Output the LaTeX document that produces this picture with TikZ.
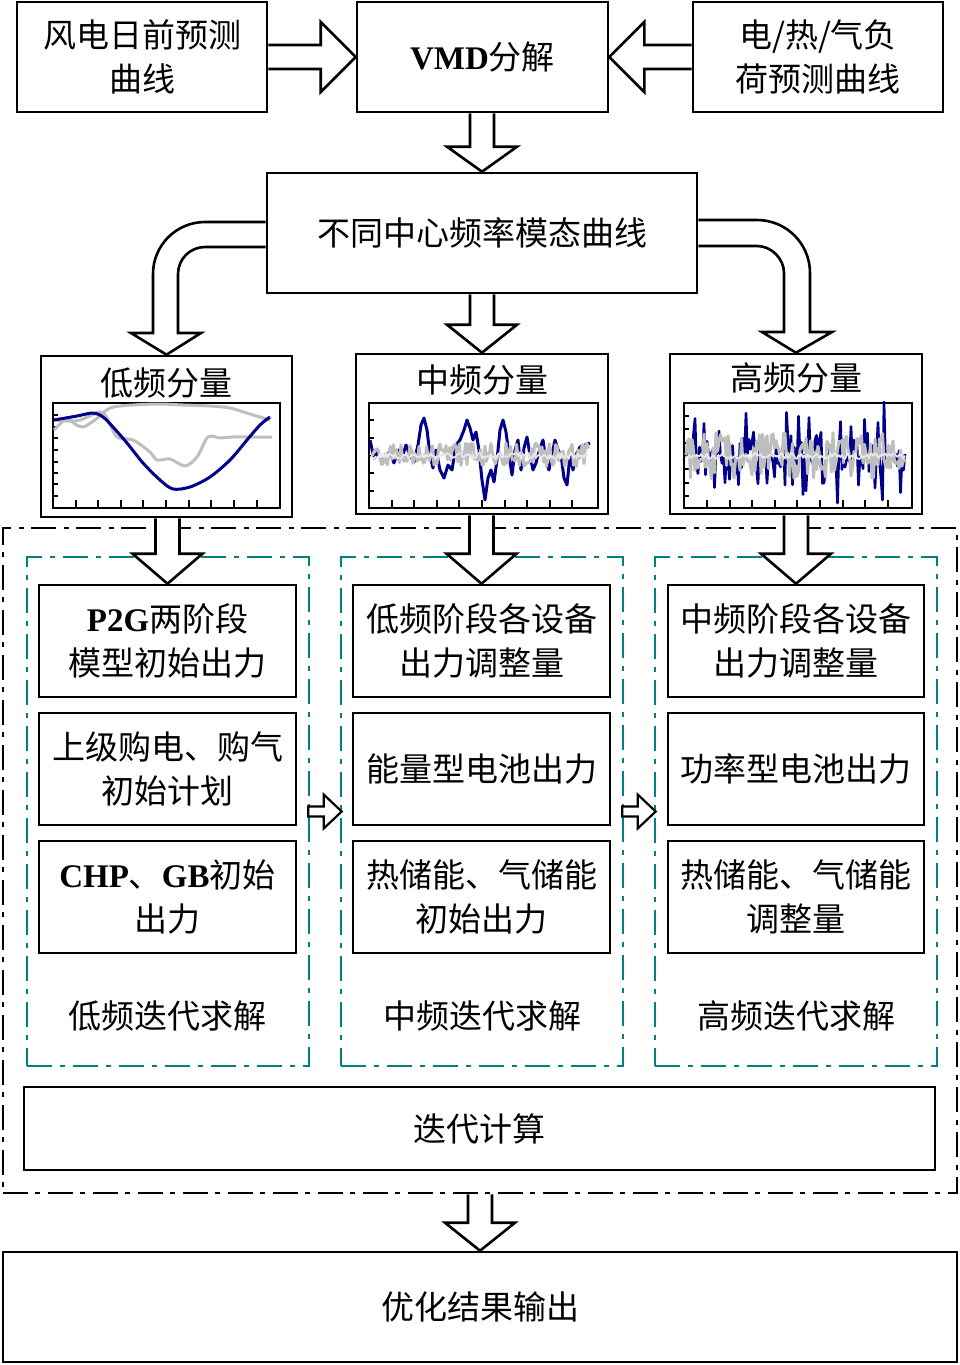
\documentclass[tikz,border=0pt]{standalone}
\usepackage{fontspec}
\setmainfont{Noto Sans CJK SC}
\newfontfamily\lat{Liberation Serif}
\usetikzlibrary{calc}
\definecolor{navyc}{RGB}{0,0,140}
\definecolor{greyc}{RGB}{190,190,190}
\definecolor{lightc}{RGB}{232,232,232}
\definecolor{tealc}{RGB}{0,128,128}
\tikzset{
  box/.style={draw, line width=2.6pt, fill=white, inner sep=0pt, align=center, font=\fontsize{33}{44}\selectfont},
  lbl/.style={inner sep=0pt, align=center, font=\fontsize{33}{44}\selectfont},
  barrow/.style={draw, line width=2.6pt, fill=white, line join=miter, miter limit=10},
  sarrow/.style={draw, line width=2.2pt, fill=white, line join=miter, miter limit=10},
  outerbox/.style={draw, line width=2.6pt, dash pattern=on 25pt off 7pt on 5pt off 8pt, inner sep=0pt},
  grpbox/.style={draw=tealc, line width=2.6pt, dash pattern=on 25pt off 8pt on 5pt off 8pt, inner sep=0pt},
  plotframe/.style={draw, line width=2.6pt, inner sep=0pt},
  tickmark/.style={line width=2pt},
  blueline/.style={navyc, line width=3pt, line join=round},
  greyline/.style={greyc, line width=3pt, line join=round},
  lightline/.style={lightc, line width=1.8pt, line join=round},
}
% down block arrow: #1 head length, #2 source anchor, #3 tip anchor
\newcommand\blkdown[3][28]{%
  \draw[barrow] ($(#2 -| #3)+(-12,0)$) -- ($(#3)+(-12,-#1)$) -- ++(-23,0) -- (#3)
    -- ($(#3)+(35,-#1)$) -- ++(-23,0) -- ($(#2 -| #3)+(12,0)$);}
\begin{document}
\begin{tikzpicture}[x=1pt,y=-1pt]
\useasboundingbox (0,0) rectangle (959,1365);
\fill[white] (0,0) rectangle (959,1365);

% dashed frames
\node[outerbox, minimum width=954pt, minimum height=665pt] (outer) at (480,860.5) {};
\node[grpbox, minimum width=282pt, minimum height=509pt] (g1) at (168,811.5) {};
\node[grpbox, minimum width=282pt, minimum height=509pt] (g2) at (482,811.5) {};
\node[grpbox, minimum width=282pt, minimum height=509pt] (g3) at (796,811.5) {};
\node[lbl] (g1l) at (167,1016) {低频迭代求解};
\node[lbl] (g2l) at (482,1016) {中频迭代求解};
\node[lbl] (g3l) at (796,1016) {高频迭代求解};

% top boxes
\node[box, minimum width=250pt, minimum height=110pt] (wind) at (142,57) {风电日前预测\\曲线};
\node[box, minimum width=251pt, minimum height=110pt] (vmd) at (482.5,57) {{\lat\bfseries VMD}分解};
\node[box, minimum width=250pt, minimum height=110pt] (load) at (818,57) {电/热/气负\\荷预测曲线};
\node[box, minimum width=430pt, minimum height=120pt] (mode) at (482,233) {不同中心频率模态曲线};

% chart boxes
\node[box, minimum width=251pt, minimum height=161pt] (lowbox) at (166.5,436.5) {};
\node[box, minimum width=252pt, minimum height=160pt] (midbox) at (482,434) {};
\node[box, minimum width=252pt, minimum height=160pt] (highbox) at (796,434) {};
\node[lbl] (lowt) at (166,383) {低频分量};
\node[lbl] (midt) at (482,380) {中频分量};
\node[lbl] (hight) at (796,378) {高频分量};
\node[plotframe, minimum width=227pt, minimum height=105pt] (lowplot) at (166.5,455.5) {};
\node[plotframe, minimum width=229pt, minimum height=105pt] (midplot) at (483.5,455.5) {};
\node[plotframe, minimum width=228pt, minimum height=105pt] (highplot) at (798,455.5) {};

% low chart
\foreach \y in {415,427,438,450,462,473,484,496} \draw[tickmark] (53,\y) -- ++(5,0);
\foreach \x in {76,98,121,143,166,189,211,234,257} \draw[tickmark] (\x,508) -- ++(0,-8);
\begin{scope}
\clip (lowplot.south west) rectangle (lowplot.north east);
\draw[greyline] plot[smooth] coordinates {(54,430) (60,424) (67,418) (75,424) (83,427) (95,420) (110,408) (133,405) (160,404) (183,405) (210,406) (230,408) (253,415) (270,420)};
\draw[greyline] plot[smooth] coordinates {(54,420) (65,421) (80,420) (100,412) (107,418) (117,437) (133,440) (150,452) (157,460) (170,459) (185,466) (197,457) (208,437) (220,438) (233,437) (255,437) (272,437)};
\draw[blueline] plot[smooth] coordinates {(54,420) (77,416) (93,413) (103,417) (113,427) (127,443) (143,463) (160,480) (173,489) (190,487) (210,477) (230,460) (247,440) (260,425) (270,417)};
\end{scope}

% mid chart
\foreach \y in {420,438,456,473,491} \draw[tickmark] (369,\y) -- ++(5,0);
\foreach \x in {392,414,437,459,482,505,527,550,572} \draw[tickmark] (\x,508) -- ++(0,-8);
\begin{scope}
\clip (midplot.south west) rectangle (midplot.north east);
\draw[blueline] (370,440) -- (374,458) -- (378,452) -- (382,462) -- (386,455) -- (390,452) -- (394,463) -- (398,450) -- (402,458) -- (406,445) -- (410,455) -- (414,462) -- (418,445) -- (421,425) -- (424,418) -- (427,430) -- (430,455) -- (433,468) -- (436,450) -- (440,470) -- (444,478) -- (448,465) -- (452,470) -- (456,445) -- (460,440) -- (464,430) -- (467,420) -- (470,428) -- (473,440) -- (476,432) -- (479,450) -- (482,480) -- (485,500) -- (488,478) -- (491,470) -- (494,482) -- (497,460) -- (500,430) -- (503,420) -- (506,432) -- (509,455) -- (512,475) -- (515,450) -- (518,440) -- (521,470) -- (524,448) -- (527,437) -- (530,455) -- (533,470) -- (536,463) -- (540,448) -- (543,440) -- (546,462) -- (549,470) -- (552,455) -- (555,440) -- (558,450) -- (561,455) -- (564,478) -- (567,485) -- (570,455) -- (573,470) -- (576,455) -- (580,447) -- (585,445) -- (590,443);
\pgfmathsetseed{11}
\draw[greyline] (371,455) \foreach \i in {1,...,145} { -- ({371+1.5*\i},{455+12*rand}) };
\draw[lightline] (371,456) \foreach \i in {1,...,145} { -- ({371+1.5*\i},{456+3*rand}) };
\end{scope}

% high chart
\foreach \y in {416,429,443,456,469,483,496} \draw[tickmark] (684,\y) -- ++(5,0);
\foreach \x in {707,730,752,775,797,820,843,865,888} \draw[tickmark] (\x,508) -- ++(0,-8);
\begin{scope}
\clip (highplot.south west) rectangle (highplot.north east);
\pgfmathsetseed{42}
\draw[blueline, line width=2.6pt] (686,455) \foreach \i in {1,...,146} { -- ({686+1.5*\i},{455+56*rand*abs(rand)}) };
\draw[greyline] (686,455) \foreach \i in {1,...,146} { -- ({686+1.5*\i},{455+24*rand}) };
\draw[lightline] (686,456) \foreach \i in {1,...,146} { -- ({686+1.5*\i},{456+3*rand}) };
\end{scope}

% column boxes
\node[box, minimum width=257pt, minimum height=112pt] (c11) at (167.5,641) {{\lat\bfseries P2G}两阶段\\模型初始出力};
\node[box, minimum width=257pt, minimum height=112pt] (c12) at (167.5,769) {上级购电、购气\\初始计划};
\node[box, minimum width=257pt, minimum height=112pt] (c13) at (167.5,897) {{\lat\bfseries CHP}、{\lat\bfseries GB}初始\\出力};
\node[box, minimum width=257pt, minimum height=112pt] (c21) at (481.5,641) {低频阶段各设备\\出力调整量};
\node[box, minimum width=257pt, minimum height=112pt] (c22) at (481.5,769) {能量型电池出力};
\node[box, minimum width=257pt, minimum height=112pt] (c23) at (481.5,897) {热储能、气储能\\初始出力};
\node[box, minimum width=256pt, minimum height=112pt] (c31) at (796,641) {中频阶段各设备\\出力调整量};
\node[box, minimum width=256pt, minimum height=112pt] (c32) at (796,769) {功率型电池出力};
\node[box, minimum width=256pt, minimum height=112pt] (c33) at (796,897) {热储能、气储能\\调整量};

% bottom boxes
\node[box, minimum width=911pt, minimum height=83pt] (iter) at (479.5,1128.5) {迭代计算};
\node[box, minimum width=954pt, minimum height=110pt] (result) at (480,1307) {优化结果输出};

% horizontal block arrows
\draw[barrow] ($(wind.east)+(0,-12)$) -- ($(vmd.west)+(-35,-12)$) -- ++(0,-23) -- (vmd.west)
  -- ++(-35,35) -- ++(0,-23) -- ($(wind.east)+(0,12)$);
\draw[barrow] ($(load.west)+(0,-12)$) -- ($(vmd.east)+(35,-12)$) -- ++(0,-23) -- (vmd.east)
  -- ++(35,35) -- ++(0,-23) -- ($(load.west)+(0,12)$);

% vertical block arrows
\blkdown[25]{vmd.south}{mode.north}
\blkdown{mode.south}{midbox.north}
\blkdown[30]{lowbox.south}{c11.north}
\blkdown[30]{midbox.south}{c21.north}
\blkdown[30]{highbox.south}{c31.north}
\blkdown{outer.south}{result.north}

% curved block arrows
\draw[barrow] ($(mode.west)+(0,-11)$) -- (205,222) .. controls (176.3,222) and (153,245.3) .. (153,274)
  -- (153,333) -- (131,333) -- (lowbox.north) -- (201,333) -- (178,333) -- (178,274)
  .. controls (178,259.1) and (190.1,247) .. (205,247) -- ($(mode.west)+(0,14)$);
\draw[barrow] ($(mode.east)+(0,-13)$) -- (757,220) .. controls (786.3,220) and (810,243.7) .. (810,273)
  -- (810,332) -- (832,332) -- (highbox.north) -- (762,332) -- (784,332) -- (784,273)
  .. controls (784,258.6) and (771.4,246) .. (757,246) -- ($(mode.east)+(0,13)$);

% small arrows between groups
\draw[sarrow] ($(g1.east)+(-2,-5)$) -- ($(g2.west)+(-16,-5)$) -- ++(0,-12) -- ($(g2.west)+(2,0)$)
  -- ($(g2.west)+(-16,17)$) -- ++(0,-12) -- ($(g1.east)+(-2,5)$) -- cycle;
\draw[sarrow] ($(g2.east)+(-2,-5)$) -- ($(g3.west)+(-16,-5)$) -- ++(0,-12) -- ($(g3.west)+(2,0)$)
  -- ($(g3.west)+(-16,17)$) -- ++(0,-12) -- ($(g2.east)+(-2,5)$) -- cycle;
\end{tikzpicture}
\end{document}
